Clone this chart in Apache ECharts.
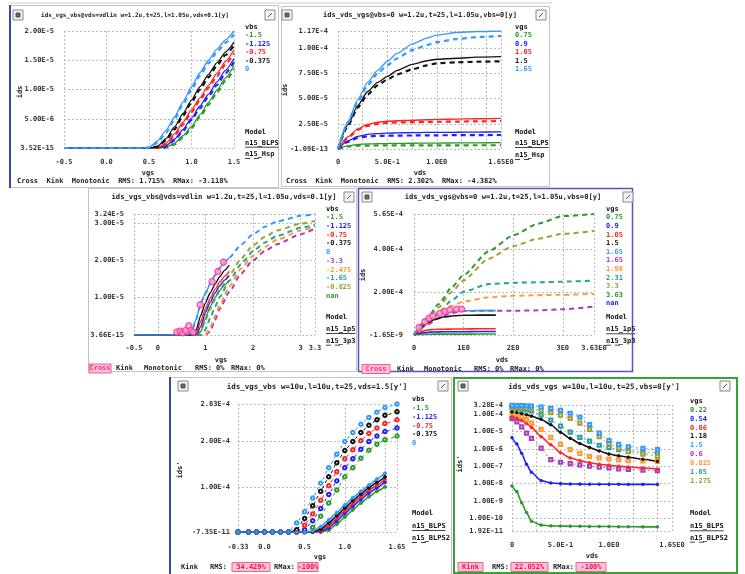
<!DOCTYPE html>
<html>
<head>
<meta charset="utf-8">
<script src="https://cdn.jsdelivr.net/npm/echarts@6/dist/echarts.min.js"></script>
<style>
  html, body { margin: 0; padding: 0; background: #fff; }
  #chart { width: 745px; height: 574px; }
</style>
</head>
<body>
<div id="chart"></div>
<script>
// ---- colours ----
const cGreen = '#2a9a2a', cBlue = '#2020ff', cRed = '#ff2424', cBlack = '#151515', cLBlue = '#3399ff',
      cPurple = '#a83cbc', cOrange = '#ff9a33', cTeal = '#26a0a0', cOlive = '#a0a032', cPink = '#ff3399';
const FONT = '"DejaVu Sans Mono", "Liberation Mono", monospace';

// ---- panel 1 : ids vs vgs (x1e-6) ----
const p1Vbs = ['-1.5', '-1.125', '-0.75', '-0.375', '0'];
const p1X = [-0.5, 0.4, 0.5, 0.6, 0.7, 0.8, 0.9, 1.0, 1.1, 1.2, 1.3, 1.4, 1.5];
const p1SimGreen = [0, 0, 0, 0, 0.1, 0.8, 2.1, 3.7, 5.7, 7.8, 9.9, 12.0, 14.1];
const p1SimBlue  = [0, 0, 0, 0, 0.4, 1.5, 3.2, 5.1, 7.2, 9.2, 11.3, 13.3, 15.3];
const p1SimRed   = [0, 0, 0, 0.05, 0.8, 2.4, 4.4, 6.5, 8.6, 10.7, 12.8, 14.8, 16.8];
const p1SimBlack = [0, 0, 0, 0.3, 1.6, 3.6, 5.9, 8.2, 10.5, 12.6, 14.6, 16.4, 18.1];
const p1SimLBlue = [0, 0, 0.1, 1.2, 3.0, 5.3, 7.9, 10.5, 12.9, 15.0, 16.9, 18.5, 20.0];
const p1MeaGreen = [0, 0, 0, 0, 0.05, 0.6, 1.8, 3.4, 5.3, 7.4, 9.5, 11.5, 13.5];
const p1MeaBlue  = [0, 0, 0, 0, 0.3, 1.3, 2.9, 4.8, 6.8, 8.8, 10.8, 12.8, 14.7];
const p1MeaRed   = [0, 0, 0, 0.03, 0.6, 2.1, 4.0, 6.1, 8.2, 10.3, 12.3, 14.3, 16.2];
const p1MeaBlack = [0, 0, 0, 0.2, 1.3, 3.2, 5.5, 7.8, 10.0, 12.1, 14.1, 15.9, 17.5];
const p1MeaLBlue = [0, 0, 0.05, 0.9, 2.6, 4.9, 7.5, 10.0, 12.4, 14.5, 16.4, 18.0, 19.4];
const p1XTicks = [-0.5, 0, 0.5, 1.0, 1.5];
const p1XLabels = ['-0.5', '0.0', '0.5', '1.0', '1.5'];
const p1YTicks = [0, 5, 10, 15, 20];
const p1YLabels = ['3.52E-15', '5.00E-6', '1.00E-5', '1.50E-5', '2.00E-5'];

// ---- panel 2 : ids vs vds (x1e-6) ----
const p2Vgs = ['0.75', '0.9', '1.05', '1.5', '1.65'];
const p2X = [0, 0.1, 0.2, 0.3, 0.4, 0.5, 0.6, 0.75, 0.9, 1.0, 1.2, 1.4, 1.65];
const p2SimGreen = [0, 3.0, 4.5, 5.0, 5.3, 5.5, 5.6, 5.7, 5.8, 5.9, 6.0, 6.1, 6.3];
const p2SimBlue  = [0, 8.0, 12.5, 14.5, 15.3, 15.7, 16.0, 16.2, 16.4, 16.5, 16.6, 16.8, 17.0];
const p2SimRed   = [0, 12.0, 20.0, 24.5, 26.5, 27.5, 28.0, 28.5, 29.0, 29.3, 29.7, 30.0, 30.4];
const p2SimBlack = [0, 24, 43, 57, 66, 72, 78, 84, 87.5, 89, 90, 91, 91.5];
const p2SimLBlue = [0, 27, 49, 66, 78, 87, 95, 104, 110, 113, 115.5, 116.5, 117];
const p2MeaGreen = [0, 2.5, 3.2, 3.4, 3.5, 3.5, 3.55, 3.6, 3.6, 3.6, 3.65, 3.7, 3.7];
const p2MeaBlue  = [0, 7, 11, 12.5, 13, 13.2, 13.3, 13.4, 13.5, 13.6, 13.7, 13.8, 13.9];
const p2MeaRed   = [0, 11, 19, 23, 25, 26, 26.3, 26.6, 26.8, 27, 27.2, 27.4, 27.6];
const p2MeaBlack = [0, 23, 41, 54, 63, 69, 74, 79, 83, 85, 86, 86.5, 87];
const p2MeaLBlue = [0, 26, 47, 63, 75, 83, 90, 98, 103, 106, 109, 111, 112];
const p2XGrid = [0, 0.25, 0.5, 0.75, 1.0, 1.25, 1.5, 1.65];
const p2XTicks = [0, 0.5, 1.0, 1.65];
const p2XLabels = ['0', '5.0E-1', '1.0E0', '1.65E0'];
const p2YTicks = [0, 25, 50, 75, 100, 117];
const p2YLabels = ['-1.09E-13', '2.50E-5', '5.00E-5', '7.50E-5', '1.00E-4', '1.17E-4'];

// ---- panel 3 : ids vs vgs, two models (x1e-5) ----
const p3Vbs = ['-1.5', '-1.125', '-0.75', '-0.375', '0', '-3.3', '-2.475', '-1.65', '-0.825', 'nan'];
const p3SolidX = [-0.5, 0.6, 0.7, 0.8, 0.9, 1.0, 1.1, 1.2, 1.3, 1.4, 1.5];
const p3SolGreen = [0, 0, 0, 0, 0.08, 0.45, 0.76, 1.0, 1.2, 1.34, 1.46];
const p3SolBlue  = [0, 0, 0, 0, 0.22, 0.6, 0.88, 1.12, 1.32, 1.47, 1.59];
const p3SolRed   = [0, 0, 0, 0.03, 0.36, 0.7, 0.98, 1.22, 1.42, 1.57, 1.7];
const p3SolBlack = [0, 0, 0, 0.12, 0.52, 0.86, 1.13, 1.36, 1.56, 1.73, 1.87];
const p3SolLBlue = [0, 0, 0.05, 0.4, 0.85, 1.12, 1.37, 1.6, 1.8, 1.96, 2.07];
const p3DashX = [-0.5, 0.6, 0.7, 0.8, 0.9, 1.0, 1.1, 1.2, 1.3, 1.5, 1.75, 2.0, 2.25, 2.5, 3.0, 3.3];
const p3DshLBlue  = [0, 0, 0.05, 0.4, 0.85, 1.12, 1.37, 1.6, 1.8, 2.07, 2.42, 2.7, 2.9, 3.04, 3.19, 3.24];
const p3DshOlive  = [0, 0, 0, 0, 0.1, 0.4, 0.7, 0.95, 1.2, 1.6, 2.05, 2.4, 2.63, 2.8, 2.98, 3.05];
const p3DshTeal   = [0, 0, 0, 0, 0, 0.15, 0.45, 0.75, 1.02, 1.45, 1.9, 2.25, 2.48, 2.65, 2.87, 2.95];
const p3DshOrange = [0, 0, 0, 0, 0, 0, 0.2, 0.5, 0.8, 1.3, 1.78, 2.12, 2.36, 2.55, 2.8, 2.9];
const p3DshPurple = [0, 0, 0, 0, 0, 0, 0.1, 0.4, 0.7, 1.15, 1.65, 2.0, 2.25, 2.43, 2.7, 2.85];
const p3CrossX = [0.4, 0.47, 0.52, 0.58, 0.65, 0.7, 0.74, 0.89, 1.14, 1.26, 1.38];
const p3CrossY = [0.08, 0.1, 0.06, 0.12, 0.25, 0.12, 0.08, 0.81, 1.43, 1.7, 1.95];
const p3XTicks = [-0.5, 0, 1, 2, 3, 3.3];
const p3XLabels = ['-0.5', '0', '1', '2', '3', '3.3'];
const p3YTicks = [0, 1, 2, 3, 3.24];
const p3YLabels = ['3.66E-15', '1.00E-5', '2.00E-5', '3.00E-5', '3.24E-5'];

// ---- panel 4 : ids vs vds, two models (x1e-4) ----
const p4Vgs = ['0.75', '0.9', '1.05', '1.5', '1.65', '1.65', '1.98', '2.31', '3.3', '3.63', 'nan'];
const p4SolidX = [0, 0.1, 0.2, 0.3, 0.4, 0.6, 0.8, 1.0, 1.3, 1.65];
const p4SolGreen = [0, 0.02, 0.03, 0.035, 0.04, 0.04, 0.04, 0.04, 0.045, 0.045];
const p4SolBlue  = [0, 0.07, 0.11, 0.13, 0.14, 0.15, 0.15, 0.155, 0.16, 0.16];
const p4SolRed   = [0, 0.12, 0.2, 0.24, 0.26, 0.27, 0.28, 0.28, 0.29, 0.29];
const p4SolBlack = [0, 0.25, 0.45, 0.6, 0.71, 0.84, 0.9, 0.92, 0.93, 0.93];
const p4SolLBlue = [0, 0.3, 0.55, 0.75, 0.9, 1.05, 1.11, 1.13, 1.14, 1.14];
const p4DashX = [0, 0.25, 0.5, 0.75, 1.0, 1.5, 2.0, 2.5, 3.0, 3.63];
const p4DshPurple = [0, 0.45, 0.8, 1.02, 1.12, 1.13, 1.13, 1.15, 1.2, 1.33];
const p4DshOrange = [0, 0.5, 0.95, 1.35, 1.56, 1.76, 1.83, 1.86, 1.88, 1.92];
const p4DshTeal   = [0, 0.52, 1.05, 1.6, 2.02, 2.38, 2.44, 2.46, 2.49, 2.54];
const p4DshOlive  = [0, 0.7, 1.3, 2.0, 2.55, 3.55, 4.15, 4.5, 4.72, 4.86];
const p4DshGreen  = [0, 0.75, 1.45, 2.2, 2.8, 3.9, 4.65, 5.2, 5.55, 5.65];
const p4CrossX = [0.1, 0.22, 0.3, 0.38, 0.52, 0.62, 0.72, 0.86, 0.96];
const p4CrossY = [0.35, 0.62, 0.78, 0.89, 1.01, 1.1, 1.17, 1.21, 1.21];
const p4XTicks = [0, 1, 2, 3, 3.63];
const p4XLabels = ['0', '1E0', '2E0', '3E0', '3.63E0'];
const p4YTicks = [0, 2, 4, 5.65];
const p4YLabels = ['-1.65E-9', '2.00E-4', '4.00E-4', '5.65E-4'];

// ---- panel 5 : ids' vs vgs (x1e-4) ----
const p5Vbs = ['-1.5', '-1.125', '-0.75', '-0.375', '0'];
const p5UpX = [-0.33, -0.2, -0.1, 0.0, 0.1, 0.2, 0.3, 0.4, 0.5, 0.6, 0.7, 0.8, 0.9, 1.0, 1.1, 1.2, 1.3, 1.4, 1.5, 1.65];
const p5UpGreen = [0, 0, 0, 0, 0, 0, 0, 0, 0, 0.1, 0.35, 0.64, 0.93, 1.22, 1.42, 1.63, 1.81, 1.94, 2.04, 2.12];
const p5UpBlue  = [0, 0, 0, 0, 0, 0, 0, 0, 0.05, 0.25, 0.52, 0.83, 1.13, 1.42, 1.62, 1.83, 2.0, 2.12, 2.22, 2.3];
const p5UpRed   = [0, 0, 0, 0, 0, 0, 0, 0, 0.15, 0.4, 0.7, 1.02, 1.33, 1.62, 1.82, 2.02, 2.18, 2.3, 2.4, 2.48];
const p5UpBlack = [0, 0, 0, 0, 0, 0, 0, 0.05, 0.3, 0.58, 0.9, 1.22, 1.53, 1.8, 2.0, 2.2, 2.36, 2.48, 2.58, 2.66];
const p5UpLBlue = [0, 0, 0, 0, 0, 0, 0, 0.2, 0.45, 0.75, 1.08, 1.42, 1.72, 2.0, 2.2, 2.38, 2.53, 2.65, 2.75, 2.83];
const p5LoX = [-0.33, -0.2, -0.1, 0.0, 0.1, 0.2, 0.3, 0.4, 0.5, 0.6, 0.7, 0.8, 0.9, 1.0, 1.1, 1.2, 1.3, 1.4, 1.5];
const p5LoGreen = [0, 0, 0, 0, 0, 0, 0, 0, 0, 0, 0, 0.04, 0.17, 0.33, 0.49, 0.64, 0.78, 0.9, 1.0];
const p5LoBlue  = [0, 0, 0, 0, 0, 0, 0, 0, 0, 0, 0.01, 0.09, 0.24, 0.41, 0.57, 0.72, 0.86, 0.98, 1.1];
const p5LoRed   = [0, 0, 0, 0, 0, 0, 0, 0, 0, 0, 0.03, 0.14, 0.3, 0.47, 0.63, 0.78, 0.92, 1.04, 1.16];
const p5LoBlack = [0, 0, 0, 0, 0, 0, 0, 0, 0, 0, 0.06, 0.2, 0.36, 0.53, 0.69, 0.84, 0.98, 1.1, 1.22];
const p5LoLBlue = [0, 0, 0, 0, 0, 0, 0, 0, 0, 0.02, 0.12, 0.27, 0.43, 0.6, 0.76, 0.9, 1.04, 1.17, 1.3];
const p5XGrid = [-0.33, 0, 0.5, 1.0, 1.5, 1.65];
const p5XTicks = [-0.33, 0, 0.5, 1.0, 1.65];
const p5XLabels = ['-0.33', '0.0', '0.5', '1.0', '1.65'];
const p5YTicks = [0, 1, 2, 2.83];
const p5YLabels = ['-7.35E-11', '1.00E-4', '2.00E-4', '2.83E-4'];

// ---- panel 6 : ids' vs vds, log scale ----
const p6Vgs = ['0.22', '0.54', '0.86', '1.18', '1.5', '0.6', '0.825', '1.05', '1.275'];
const p6X = [0, 0.05, 0.1, 0.15, 0.2, 0.3, 0.4, 0.5, 0.6, 0.7, 0.8, 0.9, 1.0, 1.1, 1.2, 1.35, 1.5];
const p6Green  = [7.4e-9, 3.5e-9, 8e-10, 2.2e-10, 7e-11, 4.2e-11, 3.8e-11, 3.7e-11, 3.6e-11, 3.6e-11, 3.5e-11, 3.5e-11, 3.5e-11, 3.4e-11, 3.4e-11, 3.3e-11, 3.3e-11];
const p6Blue   = [4.4e-6, 1.9e-6, 5.5e-7, 1.3e-7, 4.5e-8, 1.5e-8, 1.1e-8, 1.0e-8, 9.6e-9, 9.4e-9, 9.3e-9, 9.3e-9, 9.2e-9, 9.2e-9, 9.1e-9, 9.1e-9, 9.0e-9];
const p6Red    = [6.8e-5, 5.6e-5, 4.2e-5, 2.8e-5, 1.7e-5, 5e-6, 1.7e-6, 6e-7, 3e-7, 2.1e-7, 1.6e-7, 1.3e-7, 1.15e-7, 1.0e-7, 9e-8, 8e-8, 7e-8];
const p6Black  = [1.3e-4, 1.2e-4, 1.05e-4, 9e-5, 7.5e-5, 5e-5, 2.4e-5, 9e-6, 4e-6, 2e-6, 1.2e-6, 7.5e-7, 5e-7, 4e-7, 3.3e-7, 2.5e-7, 1.9e-7];
const p6LBlue  = [3.1e-4, 3.05e-4, 3.0e-4, 2.9e-4, 2.8e-4, 2.5e-4, 2.1e-4, 1.6e-4, 1.1e-4, 6.5e-5, 2.5e-5, 8e-6, 3e-6, 1.8e-6, 1.3e-6, 1.05e-6, 9e-7];
const p6Purple = [5.5e-5, 3.5e-5, 1.8e-5, 8e-6, 4e-6, 1.1e-6, 2.4e-7, 1.7e-7, 1.4e-7, 1.2e-7, 1.0e-7, 9e-8, 8e-8, 7e-8, 6.5e-8, 6e-8, 5.5e-8];
const p6Orange = [1.1e-4, 9e-5, 7e-5, 5e-5, 3e-5, 1.3e-5, 4.5e-6, 1.8e-6, 9e-7, 5.5e-7, 3.7e-7, 3e-7, 2.6e-7, 2.3e-7, 2.1e-7, 2e-7, 1.9e-7];
const p6Teal   = [2.2e-4, 2.1e-4, 1.9e-4, 1.7e-4, 1.5e-4, 9e-5, 4.5e-5, 2e-5, 9e-6, 4.5e-6, 2.8e-6, 1.6e-6, 1.2e-6, 9e-7, 7.5e-7, 6.5e-7, 5.7e-7];
const p6Olive  = [2.5e-4, 2.4e-4, 2.3e-4, 2.15e-4, 2e-4, 1.6e-4, 1.2e-4, 8.5e-5, 5.5e-5, 3e-5, 1.3e-5, 5e-6, 2e-6, 1.1e-6, 7e-7, 5e-7, 3.7e-7];
const p6XGrid = [0, 0.25, 0.5, 0.75, 1.0, 1.25, 1.5, 1.65];
const p6XTicks = [0, 0.5, 1.0, 1.65];
const p6XLabels = ['0', '5.0E-1', '1.0E0', '1.65E0'];
const p6YTicks = [1.92e-11, 1e-10, 1e-9, 1e-8, 1e-7, 1e-6, 1e-5, 1e-4, 3.28e-4];
const p6YLabels = ['1.92E-11', '1.00E-10', '1.00E-9', '1.00E-8', '1.00E-7', '1.00E-6', '1.00E-5', '1.00E-4', '3.28E-4'];

// ---- helpers ----
function pairs(xs, ys) { return xs.map((x, i) => [x, ys[i]]); }
function pick(ticks, labels, v) {
  for (let i = 0; i < ticks.length; i++) {
    if (Math.abs(ticks[i] - v) <= Math.abs(ticks[i]) * 1e-6 + 1e-13) return labels[i];
  }
  return '';
}
function axis(g, min, max, gridVals, labVals, labTxt, margin, extra) {
  return Object.assign({
    type: 'value', gridIndex: g, min: min, max: max,
    axisLine: { show: false },
    axisTick: { show: false, customValues: gridVals },
    splitLine: { show: true, lineStyle: { color: '#bcbcbc', type: [2, 2], width: 1 } },
    axisLabel: {
      customValues: labVals, margin: margin, fontFamily: FONT, fontWeight: 'bold', fontSize: 7, color: '#333',
      formatter: v => pick(labVals, labTxt, v)
    }
  }, extra || {});
}
function ln(g, xs, ys, color, o) {
  o = o || {};
  return {
    type: 'line', xAxisIndex: g, yAxisIndex: g, data: pairs(xs, ys),
    smooth: o.smooth === undefined ? 0.2 : o.smooth, smoothMonotone: 'x',
    symbol: o.symbol || 'none', symbolSize: o.size || 4, showSymbol: !!o.symbol,
    lineStyle: { color: color, width: o.w || 1.4, type: o.dash || 'solid' },
    itemStyle: { color: color, borderColor: color, borderWidth: 1 },
    animation: false, silent: true, z: o.z || 3
  };
}
function cross(g, xs, ys) {
  return {
    type: 'scatter', xAxisIndex: g, yAxisIndex: g, data: pairs(xs, ys),
    symbol: 'circle', symbolSize: 6,
    itemStyle: { color: '#ff9ccd', borderColor: cPink, borderWidth: 1.4 },
    animation: false, silent: true, z: 6
  };
}

const DASH = [5, 4];
const series = [];
// panel 1
[[p1SimGreen, p1MeaGreen, cGreen], [p1SimBlue, p1MeaBlue, cBlue], [p1SimRed, p1MeaRed, cRed],
 [p1SimBlack, p1MeaBlack, cBlack], [p1SimLBlue, p1MeaLBlue, cLBlue]].forEach(c => {
  series.push(ln(0, p1X, c[0], c[2], { w: 1.3 }));
  series.push(ln(0, p1X, c[1], c[2], { w: 2.2, dash: DASH }));
});
// panel 2
[[p2SimGreen, p2MeaGreen, cGreen], [p2SimBlue, p2MeaBlue, cBlue], [p2SimRed, p2MeaRed, cRed],
 [p2SimBlack, p2MeaBlack, cBlack], [p2SimLBlue, p2MeaLBlue, cLBlue]].forEach(c => {
  series.push(ln(1, p2X, c[0], c[2], { w: 1.3 }));
  series.push(ln(1, p2X, c[1], c[2], { w: 2.2, dash: DASH }));
});
// panel 3
[[p3DshPurple, cPurple], [p3DshOrange, cOrange], [p3DshTeal, cTeal], [p3DshOlive, cOlive], [p3DshLBlue, cLBlue]]
  .forEach(c => series.push(ln(2, p3DashX, c[0], c[1], { w: 2, dash: DASH })));
[[p3SolGreen, cGreen], [p3SolBlue, cBlue], [p3SolRed, cRed], [p3SolBlack, cBlack], [p3SolLBlue, cLBlue]]
  .forEach(c => series.push(ln(2, p3SolidX, c[0], c[1], { w: 1.4, z: 4 })));
series.push(cross(2, p3CrossX, p3CrossY));
// panel 4
[[p4DshPurple, cPurple], [p4DshOrange, cOrange], [p4DshTeal, cTeal], [p4DshOlive, cOlive], [p4DshGreen, cGreen]]
  .forEach(c => series.push(ln(3, p4DashX, c[0], c[1], { w: 2, dash: DASH })));
[[p4SolGreen, cGreen], [p4SolBlue, cBlue], [p4SolRed, cRed], [p4SolBlack, cBlack], [p4SolLBlue, cLBlue]]
  .forEach(c => series.push(ln(3, p4SolidX, c[0], c[1], { w: 1.6, z: 4 })));
series.push(cross(3, p4CrossX, p4CrossY));
// panel 5
[[p5UpGreen, cGreen], [p5UpBlue, cBlue], [p5UpRed, cRed], [p5UpBlack, cBlack], [p5UpLBlue, cLBlue]]
  .forEach(c => series.push(ln(4, p5UpX, c[0], c[1], { w: 1, dash: [3, 3], symbol: 'emptyCircle', size: 3.5, smooth: 0.15 })));
[[p5LoGreen, cGreen], [p5LoBlue, cBlue], [p5LoRed, cRed], [p5LoBlack, cBlack], [p5LoLBlue, cLBlue]]
  .forEach(c => series.push(ln(4, p5LoX, c[0], c[1], { w: 1.6, symbol: 'circle', size: 3, smooth: 0.15 })));
// panel 6
[[p6Purple, cPurple], [p6Orange, cOrange], [p6Teal, cTeal], [p6Olive, cOlive], [p6LBlue, cLBlue]]
  .forEach(c => series.push(ln(5, p6X, c[0], c[1], { w: 0.8, dash: [2, 3], symbol: 'emptyRect', size: 3.2 })));
[[p6Green, cGreen], [p6Blue, cBlue], [p6Red, cRed], [p6Black, cBlack]]
  .forEach(c => series.push(ln(5, p6X, c[0], c[1], { w: 1.6, symbol: 'circle', size: 2.6 })));

// ---- decoration (frames, titles, legends, footers) ----
const G = [];
function T(x, y, s, o) {
  o = o || {};
  G.push({
    type: 'text', x: x, y: y, rotation: o.rot || 0, silent: true, z: 100,
    style: { text: s, fill: o.c || '#222', font: 'bold ' + (o.fs || 7) + 'px ' + FONT,
             textAlign: o.a || 'left', align: o.a || 'left', textVerticalAlign: 'middle', verticalAlign: 'middle' }
  });
}
function R(x, y, w, h, stroke, fill, lw) {
  G.push({ type: 'rect', silent: true, z: 90, shape: { x: x, y: y, width: w, height: h },
           style: { fill: fill || 'none', stroke: stroke, lineWidth: lw || 1 } });
}
function L(x1, y1, x2, y2, stroke, lw, dash) {
  G.push({ type: 'line', silent: true, z: 90, shape: { x1: x1, y1: y1, x2: x2, y2: y2 },
           style: { stroke: stroke, lineWidth: lw || 1, lineDash: dash || null } });
}
function icons(lx, rx, y) {
  if (lx !== null) { R(lx, y, 10, 10, '#888', '#f4f4f4'); R(lx + 3, y + 3, 4, 4, '#555', '#666'); }
  R(rx, y, 10, 10, '#888', '#f4f4f4');
  L(rx + 3, y + 7, rx + 7, y + 3, '#555', 1);
}
function legend(x, y0, step, head, labels, colors, my, models) {
  T(x, y0, head, { c: '#111' });
  labels.forEach((s, i) => T(x, y0 + step * (i + 1), s, { c: colors[i] }));
  T(x, my[0], 'Model', { c: '#111' });
  T(x, my[1], models[0], { c: '#111' });
  L(x, my[1] + 4.5, x + models[0].length * 4.2, my[1] + 4.5, '#444', 1);
  T(x, my[2], models[1], { c: '#111' });
  L(x, my[2] + 4.5, x + 18, my[2] + 4.5, '#444', 1, [5, 4]);
}
function pinkBox(x, y, w, s, col) {
  R(x, y - 4.5, w, 9, '#f06090', '#ffc2d6', 1);
  T(x + w / 2, y, s, { c: col || '#e8184c', a: 'center' });
}

// frames
L(8, 3, 552, 3, '#d0d0d0', 1);
R(10.5, 5.5, 268, 182, '#c4c4c4'); L(10, 5, 10, 188, '#3a4aa8', 2);
R(281.5, 6.5, 268, 180, '#c4c4c4');
R(88.5, 188.5, 268, 183, '#c4c4c4');
R(358.5, 188.5, 274, 183, '#4a5ac0', 'none', 1.5);
R(170.5, 377.5, 281, 197, '#c4c4c4'); L(170, 377, 170, 574, '#3a4aa8', 2);
R(454, 378, 283, 195, '#3aa03a', 'none', 2);

// icons
icons(13, 265, 10); icons(282, 536, 10); icons(null, 344, 192);
icons(362, 623, 192); icons(178, 438, 381); icons(458, 720, 381);

// titles
T(135, 15, 'ids_vgs_vbs@vds=vdlin w=1.2u,t=25,l=1.05u,vds=0.1[y]', { a: 'center', fs: 6 });
T(420, 15, 'ids_vds_vgs@vbs=0 w=1.2u,t=25,l=1.05u,vbs=0[y]', { a: 'center', fs: 7 });
T(224, 197, 'ids_vgs_vbs@vds=vdlin w=1.2u,t=25,l=1.05u,vds=0.1[y]', { a: 'center', fs: 7.2 });
T(503, 197, 'ids_vds_vgs@vbs=0 w=1.2u,t=25,l=1.05u,vbs=0[y]', { a: 'center', fs: 7.1 });
T(317, 387, "ids_vgs_vbs w=10u,l=10u,t=25,vds=1.5[y']", { a: 'center', fs: 7.5 });
T(594, 387, "ids_vds_vgs w=10u,l=10u,t=25,vbs=0[y']", { a: 'center', fs: 7.5 });

// axis names
T(20, 92, 'ids', { rot: Math.PI / 2, a: 'center' });
T(285, 90, 'ids', { rot: Math.PI / 2, a: 'center' });
T(363, 275, 'ids', { rot: Math.PI / 2, a: 'center' });
T(180, 470, "ids'", { rot: Math.PI / 2, a: 'center' });
T(460, 464, "ids'", { rot: Math.PI / 2, a: 'center' });
T(148, 173, 'vgs', { a: 'center' }); T(420, 173, 'vds', { a: 'center' });
T(221, 360, 'vgs', { a: 'center' }); T(502, 360, 'vds', { a: 'center' });
T(320, 557, 'vgs', { a: 'center' }); T(592, 556, 'vds', { a: 'center' });

// legends
const c5 = [cGreen, cBlue, cRed, cBlack, cLBlue];
legend(245, 27.3, 8.35, 'vbs', p1Vbs, c5, [131.7, 142.7, 154], ['n15_BLPS', 'n15_Hsp']);
legend(515, 27.3, 8.35, 'vgs', p2Vgs, c5, [131.7, 143, 155], ['n15_BLPS', 'n15_Hsp']);
legend(326, 209, 8.67, 'vbs', p3Vbs, [cGreen, cBlue, cRed, cBlack, cLBlue, cPurple, cOrange, cTeal, cOlive, cGreen],
       [317, 329, 340.7], ['n15_1p5', 'n15_3p3']);
legend(606, 209, 8.6, 'vgs', p4Vgs, [cGreen, cBlue, cRed, cBlack, cLBlue, cPurple, cOrange, cTeal, cOlive, cGreen, cBlue],
       [317, 329.3, 340.7], ['n15_1p5', 'n15_3p3']);
legend(412, 399, 8.9, 'vbs', p5Vbs, c5, [513, 526, 538], ['n15_BLPS', 'n15_BLPS2']);
legend(690, 401, 8.9, 'vgs', p6Vgs, [cGreen, cBlue, cRed, cBlack, cLBlue, cPurple, cOrange, cTeal, cOlive],
       [513, 526.3, 537.7], ['n15_BLPS', 'n15_BLPS2']);

// footers
T(17, 181, 'Cross  Kink  Monotonic  RMS: 1.715%  RMax: -3.118%');
T(286, 181, 'Cross  Kink  Monotonic  RMS: 2.302%  RMax: -4.382%');
pinkBox(89, 368.5, 22, 'Cross', '#ff2a95');
T(116, 368.5, 'Kink'); T(144, 368.5, 'Monotonic'); T(195, 368.5, 'RMS: 0%'); T(231, 368.5, 'RMax: 0%');
pinkBox(362, 369, 28, 'Cross', '#ff2a95');
T(397, 369, 'Kink'); T(424, 369, 'Monotonic'); T(474, 369, 'RMS: 0%'); T(510, 369, 'RMax: 0%');
T(181, 567, 'Kink'); T(210, 567, 'RMS:'); pinkBox(232, 567, 38, '34.429%');
T(274, 567, 'RMax:'); pinkBox(298, 567, 20, '-100%');
pinkBox(458, 567, 25, 'Kink'); T(492, 567, 'RMS:'); pinkBox(511, 567, 37, '22.052%');
T(553, 567, 'RMax:'); pinkBox(576, 567, 30, '-100%');

const grids = [
  { left: 64, top: 31, width: 170, height: 117 },
  { left: 338, top: 31, width: 163, height: 118 },
  { left: 134, top: 214, width: 181, height: 121 },
  { left: 414, top: 214, width: 180, height: 121 },
  { left: 238, top: 404, width: 159, height: 128 },
  { left: 512, top: 405, width: 160, height: 126 }
].map(g => Object.assign(g, { containLabel: false, outerBoundsMode: 'none' }));

const chart = echarts.init(document.getElementById('chart'), null, { renderer: 'canvas' });
chart.setOption({
  backgroundColor: '#fff',
  animation: false,
  grid: grids,
  xAxis: [
    axis(0, -0.5, 1.5, p1XTicks, p1XTicks, p1XLabels, 11),
    axis(1, 0, 1.65, p2XGrid, p2XTicks, p2XLabels, 10),
    axis(2, -0.5, 3.3, p3XTicks, p3XTicks, p3XLabels, 10),
    axis(3, 0, 3.63, p4XTicks, p4XTicks, p4XLabels, 10),
    axis(4, -0.33, 1.65, p5XGrid, p5XTicks, p5XLabels, 12),
    axis(5, 0, 1.65, p6XGrid, p6XTicks, p6XLabels, 11)
  ],
  yAxis: [
    axis(0, 0, 20, p1YTicks, p1YTicks, p1YLabels, 10),
    axis(1, 0, 117, p2YTicks, p2YTicks, p2YLabels, 10),
    axis(2, 0, 3.24, p3YTicks, p3YTicks, p3YLabels, 10),
    axis(3, 0, 5.65, p4YTicks, p4YTicks, p4YLabels, 11),
    axis(4, 0, 2.83, p5YTicks, p5YTicks, p5YLabels, 8),
    axis(5, 1.92e-11, 3.28e-4, p6YTicks, p6YTicks, p6YLabels, 9, { type: 'log', logBase: 10 })
  ],
  graphic: { elements: G },
  series: series
});
</script>
</body>
</html>
